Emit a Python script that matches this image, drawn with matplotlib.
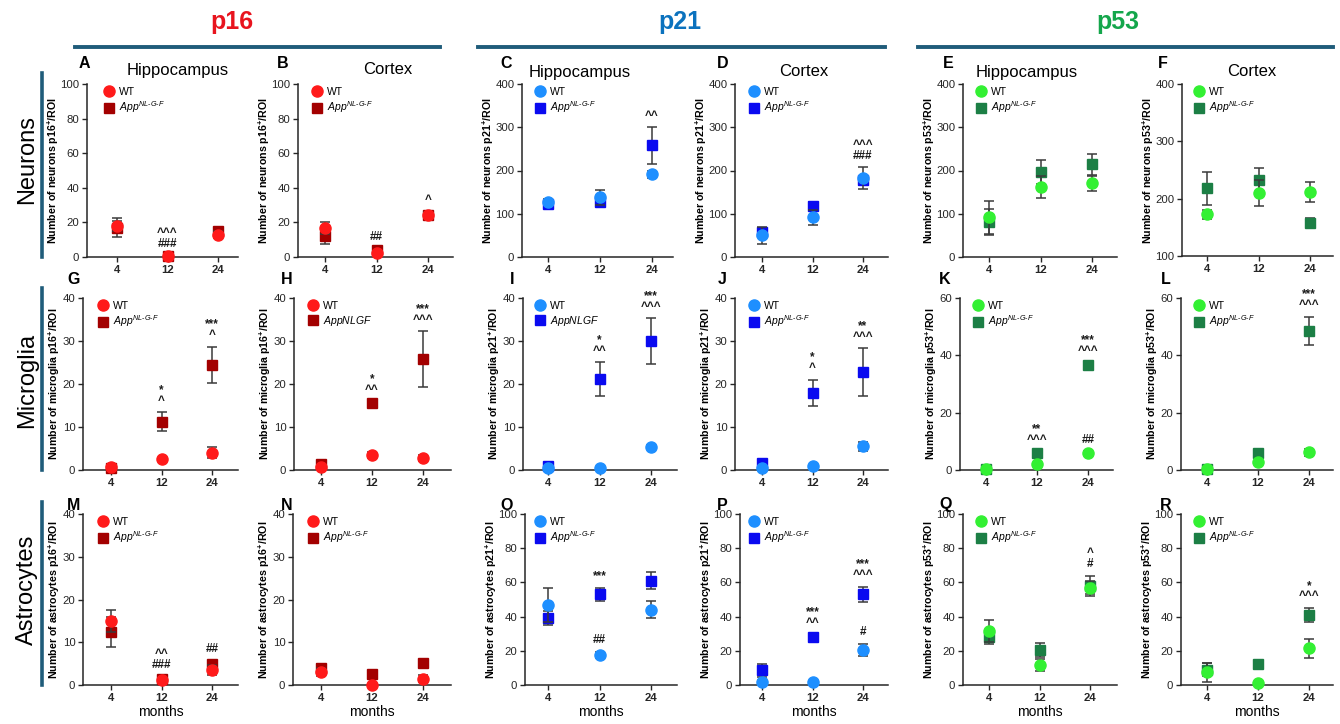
import matplotlib
matplotlib.use("Agg")
import matplotlib.pyplot as plt
from matplotlib.lines import Line2D

plt.rcParams['font.family'] = ['Liberation Sans', 'DejaVu Sans']
plt.rcParams['mathtext.fontset'] = 'custom'
plt.rcParams['mathtext.rm'] = 'Liberation Sans'
plt.rcParams['mathtext.it'] = 'Liberation Sans:italic'
plt.rcParams['mathtext.bf'] = 'Liberation Sans:bold'

W, H = 1340, 724

# ---------------- data ----------------
months = ["4", "12", "24"]
markers = ["p16", "p21", "p53"]
cell_types = ["Neurons", "Microglia", "Astrocytes"]
regions = ["Hippocampus", "Cortex"]

# neurons
A_wt = [18, 0.5, 13];      A_wt_err = [3, 0.3, 2]
A_app = [17, 0.5, 15];     A_app_err = [5.5, 0.3, 2]
B_wt = [17, 2.5, 24.5];    B_wt_err = [3.5, 0.5, 1.5]
B_app = [12, 4, 24];       B_app_err = [4.5, 1, 1.5]
C_wt = [128, 138, 191];    C_wt_err = [5, 17, 9]
C_app = [123, 127, 258];   C_app_err = [5, 5, 42]
D_wt = [50, 92, 182];      D_wt_err = [20, 17, 25]
D_app = [58, 118, 177];    D_app_err = [9, 10, 10]
E_wt = [92, 162, 170];     E_wt_err = [38, 25, 17]
E_app = [82, 196, 214];    E_app_err = [30, 28, 24]
F_wt = [173, 210, 212];    F_wt_err = [8, 23, 17]
F_app = [218, 232, 158];   F_app_err = [29, 21, 8]
# microglia
G_wt = [0.6, 2.5, 4.0];    G_wt_err = [0.3, 0.3, 1.3]
G_app = [0.5, 11.2, 24.5]; G_app_err = [0.3, 2.2, 4.2]
H_wt = [0.8, 3.5, 2.8];    H_wt_err = [0.3, 0.6, 0.6]
H_app = [1.3, 15.5, 25.8]; H_app_err = [0.3, 0.5, 6.5]
I_wt = [0.5, 0.5, 5.3];    I_wt_err = [0.2, 0.2, 0.4]
I_app = [1.0, 21.2, 30.0]; I_app_err = [0.3, 3.9, 5.3]
J_wt = [0.4, 1.0, 5.5];    J_wt_err = [0.2, 0.2, 1.1]
J_app = [1.7, 18.0, 22.7]; J_app_err = [0.4, 3.0, 5.6]
K_wt = [0.3, 2.0, 6.0];    K_wt_err = [0.2, 0.4, 0.5]
K_app = [0.3, 5.8, 36.8];  K_app_err = [0.2, 0.6, 0.8]
L_wt = [0.3, 2.8, 6.2];    L_wt_err = [0.2, 0.5, 1.3]
L_app = [0.3, 6.0, 48.5];  L_app_err = [0.2, 0.7, 5.0]
# astrocytes
M_wt = [15, 1.2, 3.5];     M_wt_err = [2.5, 0.4, 1.2]
M_app = [12.5, 1.5, 4.8];  M_app_err = [3.5, 0.5, 1.0]
N_wt = [3.0, 0.1, 1.5];    N_wt_err = [1.0, 0.1, 0.8]
N_app = [4.0, 2.5, 5.2];   N_app_err = [0.8, 0.4, 0.5]
O_wt = [47, 17.5, 44];     O_wt_err = [10, 2, 5]
O_app = [39, 53, 61];      O_app_err = [4, 4, 5]
P_wt = [2, 1.5, 20.5];     P_wt_err = [1, 0.5, 3.5]
P_app = [8.5, 28, 53];     P_app_err = [4, 1.5, 4.5]
Q_wt = [31.5, 11.5, 57];   Q_wt_err = [6.5, 3.5, 4]
Q_app = [28, 20.5, 58];    Q_app_err = [4, 4, 6]
R_wt = [7.5, 1, 21.5];     R_wt_err = [5.5, 0.5, 5.5]
R_app = [9, 12.5, 41];     R_app_err = [4, 1, 4]

# y axis ranges (min, max, step)
y_ranges = {
    'A': (0, 100, 20), 'B': (0, 100, 20), 'C': (0, 400, 100), 'D': (0, 400, 100),
    'E': (0, 400, 100), 'F': (100, 400, 100),
    'G': (0, 40, 10), 'H': (0, 40, 10), 'I': (0, 40, 10), 'J': (0, 40, 10),
    'K': (0, 60, 20), 'L': (0, 60, 20),
    'M': (0, 40, 10), 'N': (0, 40, 10), 'O': (0, 100, 20), 'P': (0, 100, 20),
    'Q': (0, 100, 20), 'R': (0, 100, 20),
}

# significance annotations: (panel, month index, anchor, text)
annotations = [
    ('A', 1, 'top', "^^^\n###"),
    ('B', 1, 'top', "##"), ('B', 2, 'top', "^"),
    ('C', 2, 'top', "^^"),
    ('D', 2, 'top', "^^^\n###"),
    ('G', 1, 'top', "*\n^"), ('G', 2, 'top', "***\n^"),
    ('H', 1, 'top', "*\n^^"), ('H', 2, 'top', "***\n^^^"),
    ('I', 1, 'top', "*\n^^"), ('I', 2, 'top', "***\n^^^"),
    ('J', 1, 'top', "*\n^"), ('J', 2, 'top', "**\n^^^"),
    ('K', 1, 'top', "**\n^^^"), ('K', 2, 'top', "***\n^^^"), ('K', 2, 'wt', "##"),
    ('L', 2, 'top', "***\n^^^"),
    ('M', 1, 'top', "^^\n###"), ('M', 2, 'top', "##"),
    ('O', 1, 'top', "***"), ('O', 1, 'wt', "##"),
    ('P', 1, 'top', "***\n^^"), ('P', 2, 'top', "***\n^^^"), ('P', 2, 'wt', "#"),
    ('Q', 2, 'top', "^\n#"),
    ('R', 2, 'top', "*\n^^^"),
]

app_label = r"$\mathit{App}^{\mathit{NL\text{-}G\text{-}F}}$"
app_label_plain = r"$\mathit{AppNLGF}$"

panel_data = {
    'A': (A_wt, A_wt_err, A_app, A_app_err), 'B': (B_wt, B_wt_err, B_app, B_app_err),
    'C': (C_wt, C_wt_err, C_app, C_app_err), 'D': (D_wt, D_wt_err, D_app, D_app_err),
    'E': (E_wt, E_wt_err, E_app, E_app_err), 'F': (F_wt, F_wt_err, F_app, F_app_err),
    'G': (G_wt, G_wt_err, G_app, G_app_err), 'H': (H_wt, H_wt_err, H_app, H_app_err),
    'I': (I_wt, I_wt_err, I_app, I_app_err), 'J': (J_wt, J_wt_err, J_app, J_app_err),
    'K': (K_wt, K_wt_err, K_app, K_app_err), 'L': (L_wt, L_wt_err, L_app, L_app_err),
    'M': (M_wt, M_wt_err, M_app, M_app_err), 'N': (N_wt, N_wt_err, N_app, N_app_err),
    'O': (O_wt, O_wt_err, O_app, O_app_err), 'P': (P_wt, P_wt_err, P_app, P_app_err),
    'Q': (Q_wt, Q_wt_err, Q_app, Q_app_err), 'R': (R_wt, R_wt_err, R_app, R_app_err),
}

# ---------------- styling / layout ----------------
colors = {
    'p16': ('#FF1A1A', '#A30000'),
    'p21': ('#1E8FFF', '#0A0AF0'),
    'p53': ('#33F033', '#1C7F45'),
}
header_colors = {'p16': '#E8141E', 'p21': '#0B72BE', 'p53': '#14A64B'}
teal = '#1F5C7A'

# pixel geometry: spine x, right x, top y, bottom y, x of tick "4", x of tick "24"
geom = {
    'A': (87, 238, 84, 257, 117, 218), 'B': (298, 453, 84, 257, 325, 428),
    'C': (522, 673, 84, 257, 548, 652), 'D': (735, 888, 84, 257, 762, 863),
    'E': (963, 1117, 84, 257, 989, 1092), 'F': (1182, 1333, 84, 256, 1207, 1310),
    'G': (83, 238, 298, 470, 111, 212), 'H': (294, 451, 298, 470, 321, 423),
    'I': (523, 677, 298, 470, 548, 651), 'J': (735, 888, 298, 470, 762, 863),
    'K': (960, 1113, 298, 470, 986, 1088), 'L': (1181, 1333, 298, 470, 1207, 1309),
    'M': (83, 238, 514, 685, 111, 212), 'N': (293, 451, 514, 685, 321, 423),
    'O': (525, 677, 514, 685, 548, 651), 'P': (740, 888, 514, 685, 762, 863),
    'Q': (963, 1117, 514, 685, 989, 1090), 'R': (1181, 1333, 514, 685, 1207, 1309),
}
letter_pos = {
    'A': (84, 64), 'B': (283, 64), 'C': (506, 64), 'D': (723, 64), 'E': (948, 64), 'F': (1163, 63),
    'G': (74, 279), 'H': (287, 279), 'I': (512, 279), 'J': (722, 279), 'K': (945, 279), 'L': (1166, 279),
    'M': (74, 505), 'N': (287, 505), 'O': (507, 505), 'P': (722, 505), 'Q': (946, 505), 'R': (1166, 505),
}
title_pos = {'A': (178, 70), 'B': (388, 70), 'C': (580, 72), 'D': (804, 72), 'E': (1027, 72), 'F': (1252, 72)}

layout = [['A', 'B', 'C', 'D', 'E', 'F'],
          ['G', 'H', 'I', 'J', 'K', 'L'],
          ['M', 'N', 'O', 'P', 'Q', 'R']]

fig = plt.figure(figsize=(W / 100, H / 100), dpi=100)
fig.patch.set_facecolor('white')
axes_by_panel = {}

for r, row in enumerate(layout):
    for c, p in enumerate(row):
        mk = markers[c // 2]
        region = regions[c % 2]
        wt_col, app_col = colors[mk]
        sx, rx, ty, by, x0, x2 = geom[p]
        axw = rx - sx
        ax = fig.add_axes([sx / W, 1 - by / H, axw / W, (by - ty) / H])
        axes_by_panel[p] = ax
        sp = (x2 - x0) / 2.0
        ax.set_xlim(-(x0 - sx) / sp, 2 + (rx - x2) / sp)
        ymin, ymax, ystep = y_ranges[p]
        ax.set_ylim(ymin, ymax)
        ax.set_yticks(list(range(ymin, ymax + 1, ystep)))
        ax.set_xticks(range(len(months)))
        ax.set_xticklabels(months, fontweight='bold', fontsize=8.5)
        for s in ['top', 'right']:
            ax.spines[s].set_visible(False)
        for s in ['left', 'bottom']:
            ax.spines[s].set_linewidth(1.1)
            ax.spines[s].set_color('#262626')
        ax.tick_params(axis='both', direction='out', length=3.5, width=1.0, colors='#262626',
                       labelsize=8.2, pad=2)
        wt, wte, app, appe = panel_data[p]
        xs = list(range(len(months)))
        eb_kw = dict(ecolor='#3a3a3a', elinewidth=1.1, capsize=3.5, capthick=1.1, linestyle='none')
        ax.errorbar(xs, app, yerr=appe, marker='s', markersize=7.5, color=app_col,
                    markeredgecolor=app_col, zorder=3, clip_on=False, **eb_kw)
        ax.errorbar(xs, wt, yerr=wte, marker='o', markersize=8, color=wt_col,
                    markeredgecolor=wt_col, zorder=4, clip_on=False, **eb_kw)
        ylab_cell = cell_types[r].lower()
        ax.set_ylabel(f"Number of {ylab_cell} {mk}" + r"$^{\mathbf{+}}$" + "/ROI",
                      fontweight='bold', fontsize=7.7)
        off = 26 if ymax >= 100 else 21
        ax.yaxis.set_label_coords(-off / axw, 0.5)
        if r == 2:
            ax.set_xlabel("months", fontsize=10, labelpad=2)
        # legend
        h_wt = Line2D([], [], marker='o', markersize=8, color=wt_col, linestyle='none')
        h_app = Line2D([], [], marker='s', markersize=7.5, color=app_col, linestyle='none')
        lab2 = app_label_plain if p in ('H', 'I') else app_label
        ax.legend([h_wt, h_app], ["WT", lab2], loc='upper left', frameon=False,
                  bbox_to_anchor=((x0 - 13) / W, 1 - (ty + 3) / H), bbox_transform=fig.transFigure,
                  fontsize=7.5, handlelength=1.0, handletextpad=0.4, labelspacing=0.25,
                  borderpad=0, borderaxespad=0)
        # panel letter
        lx, ly = letter_pos[p]
        fig.text(lx / W, 1 - ly / H, p, fontsize=11.5, fontweight='bold', ha='center', va='center')
        if r == 0:
            tx, tyy = title_pos[p]
            fig.text(tx / W, 1 - tyy / H, region, fontsize=12, ha='center', va='center')

# annotations
for p, xi, anchor, txt in annotations:
    ax = axes_by_panel[p]
    wt, wte, app, appe = panel_data[p]
    if anchor == 'top':
        yv = max(wt[xi] + wte[xi], app[xi] + appe[xi])
    else:
        yv = wt[xi] + wte[xi]
    ax.annotate(txt, xy=(xi, yv), xytext=(0, 4), textcoords='offset points', ha='center',
                va='bottom', fontsize=8.5, fontweight='bold', linespacing=0.85, color='#1a1a1a')

# row labels and bars
row_label_y = [160, 380, 590]
row_bars = [(73, 257), (288, 470), (502, 685)]
for r, name in enumerate(cell_types):
    fig.text(27 / W, 1 - row_label_y[r] / H, name, rotation=90, fontsize=17,
             ha='center', va='center')
    y1, y2 = row_bars[r]
    fig.add_artist(Line2D([42 / W, 42 / W], [1 - y1 / H, 1 - y2 / H], color=teal,
                          linewidth=2.6, transform=fig.transFigure))

# headers
header_x = [232, 680, 1118]
header_lines = [(75, 440), (478, 885), (918, 1333)]
for i, mk in enumerate(markers):
    fig.text(header_x[i] / W, 1 - 22 / H, mk, fontsize=18, fontweight='bold',
             color=header_colors[mk], ha='center', va='center')
    x1, x2 = header_lines[i]
    fig.add_artist(Line2D([x1 / W, x2 / W], [1 - 47 / H, 1 - 47 / H], color=teal,
                          linewidth=2.8, transform=fig.transFigure))

fig.savefig("out.png", dpi=100, facecolor='white')
